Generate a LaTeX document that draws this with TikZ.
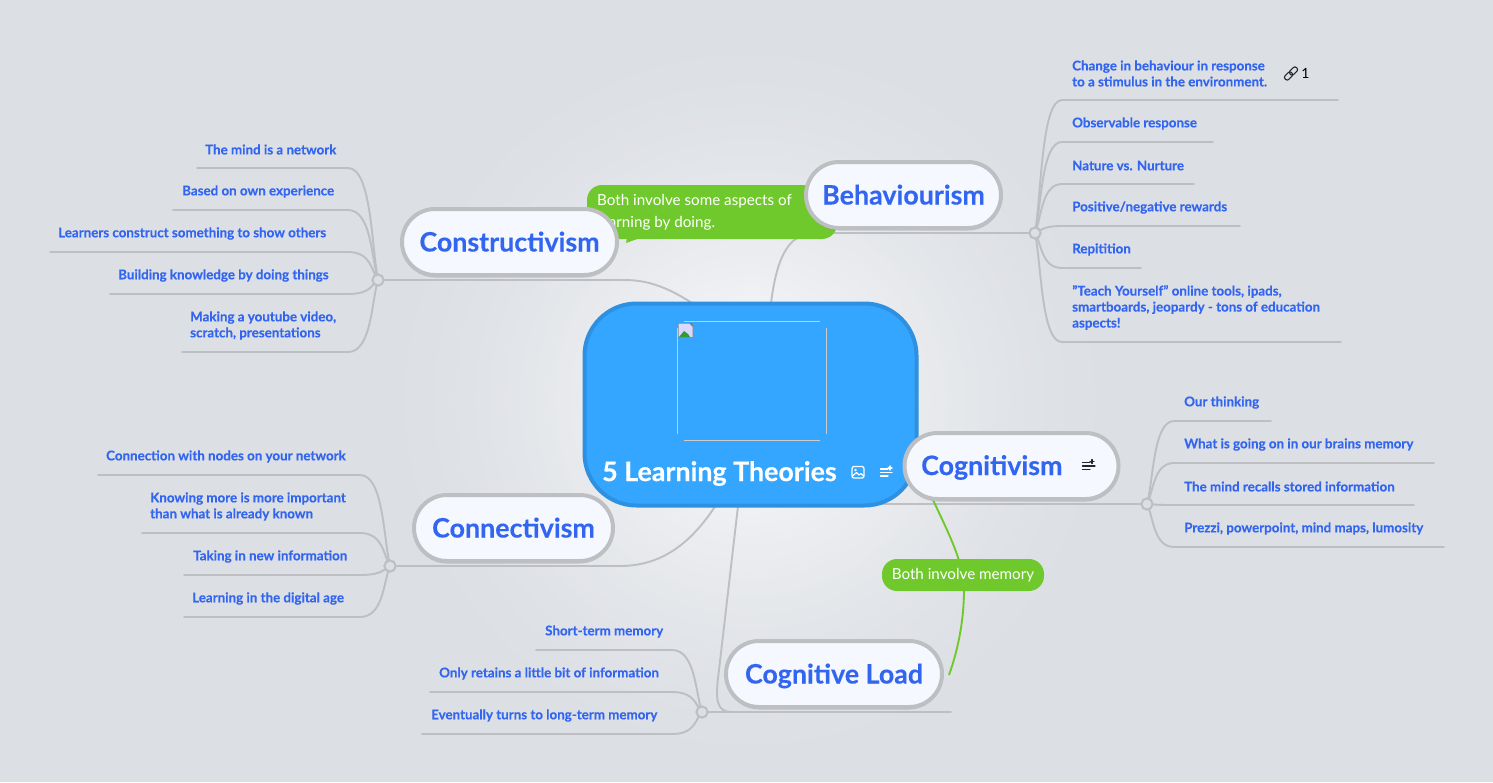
\documentclass[tikz,border=0pt]{standalone}
\usepackage{fontspec}
\setmainfont{Lato}[BoldFeatures={FakeBold=0.3}]
\usetikzlibrary{calc,shadows}
\definecolor{bgc}{HTML}{DCDFE4}
\definecolor{edgec}{HTML}{BDBFC2}
\definecolor{bluet}{HTML}{3366F0}
\definecolor{pillf}{HTML}{F5F9FF}
\definecolor{centf}{HTML}{35A6FF}
\definecolor{centb}{HTML}{2E90E0}
\definecolor{greenc}{HTML}{70C92C}
\tikzset{
  edge/.style={draw=edgec,line width=1.9pt,line cap=round},
  hubnode/.style={circle,draw=edgec,fill=bgc,line width=1.9pt,minimum size=11pt,inner sep=0pt},
  pill/.style={draw=edgec,fill=pillf,line width=4pt,rounded corners=33pt,inner sep=0pt,minimum height=66pt,text height=19pt,text depth=0pt,text=bluet,font=\fontsize{26.8}{30}\selectfont\bfseries,drop shadow={shadow xshift=0pt,shadow yshift=-2.5pt,opacity=.14,fill=black}},
  leaftext/.style={text=bluet,font=\fontsize{13.35}{16}\selectfont\bfseries,align=left,inner sep=0pt,anchor=west},
  callout/.style={fill=greenc,text=white,rounded corners=15pt,inner sep=0pt},
  calltext/.style={inner sep=0pt,text=white,font=\fontsize{15.2}{22}\selectfont,align=left},
  greenedge/.style={draw=greenc,line width=1.9pt},
  iconw/.style={draw=white,line width=1.2pt,line cap=round},
  iconk/.style={draw=black!85,line width=1.2pt,line cap=round}
}
\newcommand\mmleaf[8]{% hub, hx, hy, dir, y, endname, endx, reach
  \coordinate (#6) at (#7,#5);
  \pgfmathsetmacro\ca{#2+#4*6.5}\pgfmathsetmacro\cb{#3+0.3*(#5-#3)}\pgfmathsetmacro\cc{#2+#4*#8}
  \draw[edge] (#1.center) .. controls (\ca,\cb) and (\ca,#5) .. (\cc,#5) -- (#6);
}
\begin{document}
\begin{tikzpicture}[x=1pt,y=-1pt]
\useasboundingbox (0,0) rectangle (1493,782);
\fill[bgc] (0,0) rectangle (1493,782);
\begin{scope}
\clip (0,0) rectangle (1493,782);
\foreach \r in {370,365,...,10}{
  \pgfmathsetmacro\m{92*((370-\r)/370)^1.5}
  \fill[white!\m!bgc] (750,400) circle (\r);
}
\end{scope}
% hubs (named first so connectors can use them)
\node[hubnode] (hubB) at (1035,233) {};
\node[hubnode] (hubK) at (378,280) {};
\node[hubnode] (hubC) at (390,566) {};
\node[hubnode] (hubL) at (702,712) {};
\node[hubnode] (hubG) at (1147,504) {};
% attachment points on the central node
\coordinate (cB) at (771,303);
\coordinate (cK) at (692,303);
\coordinate (cC) at (716,505);
\coordinate (cL) at (738,506);
\coordinate (cG) at (880,504);
% branches from the centre
\draw[edge] (cB) .. controls (776,265) and (785,233) .. (815,233) -- (hubB.center);
\draw[edge] (cK) .. controls (670,289) and (650,280) .. (625,280) -- (hubK.center);
\draw[edge] (cC) .. controls (690,545) and (660,566) .. (620,566) -- (hubC.center);
\draw[edge] (cL) -- (719,670) .. controls (715,700) and (716,712) .. (732,712) -- (hubL.center);
\coordinate (lEnd) at (951,712);
\draw[edge] (hubL.center) -- (lEnd);
\draw[edge] (cG) -- (hubG.center);
% leaves
\mmleaf{hubB}{1035}{233}{1}{100}{b1}{1338}{27}
\mmleaf{hubB}{1035}{233}{1}{142}{b2}{1213}{27}
\mmleaf{hubB}{1035}{233}{1}{184}{b3}{1194}{27}
\mmleaf{hubB}{1035}{233}{1}{226}{b4}{1240}{27}
\mmleaf{hubB}{1035}{233}{1}{268}{b5}{1141}{27}
\mmleaf{hubB}{1035}{233}{1}{342}{b6}{1341}{27}
\mmleaf{hubK}{378}{280}{-1}{168}{k1}{197}{30}
\mmleaf{hubK}{378}{280}{-1}{210}{k2}{173}{30}
\mmleaf{hubK}{378}{280}{-1}{252}{k3}{50}{30}
\mmleaf{hubK}{378}{280}{-1}{294}{k4}{110}{30}
\mmleaf{hubK}{378}{280}{-1}{352}{k5}{182}{30}
\mmleaf{hubC}{390}{566}{-1}{475}{c1}{98}{30}
\mmleaf{hubC}{390}{566}{-1}{533}{c2}{142}{30}
\mmleaf{hubC}{390}{566}{-1}{575}{c3}{184}{30}
\mmleaf{hubC}{390}{566}{-1}{617}{c4}{184}{30}
\mmleaf{hubL}{702}{712}{-1}{650}{l1}{536}{30}
\mmleaf{hubL}{702}{712}{-1}{692}{l2}{430}{30}
\mmleaf{hubL}{702}{712}{-1}{734}{l3}{422}{30}
\mmleaf{hubG}{1147}{504}{1}{421}{g1}{1271}{27}
\mmleaf{hubG}{1147}{504}{1}{463}{g2}{1434}{27}
\mmleaf{hubG}{1147}{504}{1}{505}{g3}{1414}{27}
\mmleaf{hubG}{1147}{504}{1}{547}{g4}{1444}{27}
\node[hubnode] at (hubB) {};
\node[hubnode] at (hubK) {};
\node[hubnode] at (hubC) {};
\node[hubnode] at (hubL) {};
\node[hubnode] at (hubG) {};
% leaf texts
\node[leaftext] (tb1) at (1072,73.5) {Change in behaviour in response\\to a stimulus in the environment.};
\node[leaftext] (tb2) at (1072,123.5) {Observable response};
\node[leaftext] (tb3) at (1072,165.5) {Nature vs. Nurture};
\node[leaftext] (tb4) at (1072,207.5) {Positive/negative rewards};
\node[leaftext] (tb5) at (1072,249.5) {Repitition};
\node[leaftext] (tb6) at (1072,307.5) {"Teach Yourself" online tools, ipads,\\smartboards, jeopardy - tons of education\\aspects!};
\node[leaftext] (tk1) at (205,149.5) {The mind is a network};
\node[leaftext] (tk2) at (182,191.5) {Based on own experience};
\node[leaftext] (tk3) at (58,233.5) {Learners construct something to show others};
\node[leaftext] (tk4) at (118,275.5) {Building knowledge by doing things};
\node[leaftext] (tk5) at (190,325.5) {Making a youtube video,\\scratch, presentations};
\node[leaftext] (tc1) at (106,456.5) {Connection with nodes on your network};
\node[leaftext] (tc2) at (150,506.5) {Knowing more is more important\\than what is already known};
\node[leaftext] (tc3) at (193,556.5) {Taking in new information};
\node[leaftext] (tc4) at (192,598.5) {Learning in the digital age};
\node[leaftext] (tl1) at (545,631.5) {Short-term memory};
\node[leaftext] (tl2) at (439,673.5) {Only retains a little bit of information};
\node[leaftext] (tl3) at (431,715.5) {Eventually turns to long-term memory};
\node[leaftext] (tg1) at (1184,402.5) {Our thinking};
\node[leaftext] (tg2) at (1184,444.5) {What is going on in our brains memory};
\node[leaftext] (tg3) at (1184,486.5) {The mind recalls stored information};
\node[leaftext] (tg4) at (1184,528.5) {Prezzi, powerpoint, mind maps, lumosity};
% link mark
\begin{scope}[shift={(1291,73.5)},rotate=45]
\draw[iconk,line width=1.1pt,rounded corners=2.2pt] (-8,-2.6) rectangle (1,2.6);
\draw[iconk,line width=1.1pt,rounded corners=2.2pt] (-1,-2.6) rectangle (8,2.6);
\end{scope}
\node[inner sep=0pt,font=\fontsize{14}{14}\selectfont,text=black] (linknum) at (1305.5,73) {1};
% callouts
\coordinate (calltail) at (626,243);
\fill[greenc] (627,238) -- (calltail) -- (640,238) -- cycle;
\node[callout,minimum width=250pt,minimum height=54pt] (call1) at (712,212) {};
\node[calltext,anchor=west] (call1t) at (597,212.5) {Both involve some aspects of\\learning by doing.};
\coordinate (cogStart) at (933,500);
\coordinate (loadEnd) at (949,675);
\draw[greenedge] (cogStart) .. controls (952,540) and (964,565) .. (964,590) .. controls (964,620) and (958,650) .. (loadEnd);
\node[callout,minimum width=162pt,minimum height=32pt] (call2) at (963,575) {};
\node[calltext] (call2t) at (963,575.5) {Both involve memory};
% central node
\node[draw=centb,fill=centf,line width=4pt,rounded corners=52pt,minimum width=332pt,minimum height=202pt,inner sep=0pt] (central) at (750.5,404.5) {};
\draw[draw=black!20,line width=.9pt] (684,321) -- (820,321) (684,440) -- (820,440) (677,328) -- (677,434) (826,328) -- (826,434);
\fill[gray] (677.5,323) rectangle (693,338);
\fill[white!85!blue] (678.5,323.5) -- (689,323.5) -- (692.5,327) -- (692.5,337) -- (678.5,337) -- cycle;
\fill[green!50!black!80] (679,337) -- (684,331) -- (688,334) -- (690,337) -- cycle;
\node[inner sep=0pt,text=white,font=\fontsize{26.8}{30}\selectfont\bfseries,anchor=west] (ctitle) at (602,473.5) {5 Learning Theories};
% image icon
\draw[iconw,rounded corners=2pt] (852,466.5) rectangle (864,478);
\fill[white] (855.5,470) circle (1.3);
\draw[iconw,line join=round] (852.5,476) -- (856.5,472.5) -- (859,475) -- (861,473.5) -- (863.5,476);
% note icon on centre
\draw[iconw] (880.5,469) -- (888,469) (880.5,472.5) -- (892,472.5) (880.5,476) -- (888,476) (890,466) -- (890,470) (888,468) -- (892,468);
% pills
\node[pill,minimum width=195pt] (behav) at (903.5,195) {Behaviourism};
\node[pill,minimum width=215pt] (constr) at (509.5,242) {Constructivism};
\node[pill,minimum width=199pt] (connect) at (513.5,528) {Connectivism};
\node[pill,minimum width=216pt] (load) at (834,674) {Cognitive Load};
\node[pill,minimum width=214pt] (cognit) at (1011.5,466) {};
\node[inner sep=0pt,text=bluet,font=\fontsize{26.8}{30}\selectfont\bfseries,anchor=west] (cognitt) at (921,467.5) {Cognitivism};
\draw[iconk] (1082.5,462.5) -- (1090,462.5) (1082.5,466) -- (1095,466) (1082.5,469.5) -- (1090,469.5) (1092,459.5) -- (1092,463.5) (1090,461.5) -- (1094,461.5);
\end{tikzpicture}
\end{document}
